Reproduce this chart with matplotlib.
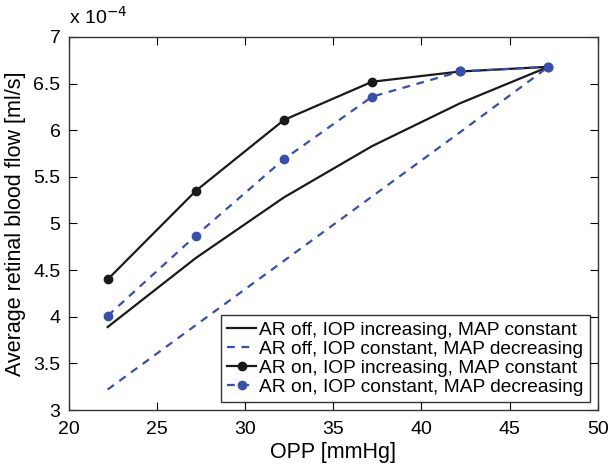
import matplotlib.pyplot as plt
from matplotlib.ticker import FuncFormatter

plt.rcParams['font.family'] = ['Liberation Sans', 'DejaVu Sans']

opp = [22.2, 27.2, 32.2, 37.2, 42.2, 47.2]
# flow in units of 1e-4 ml/s
off_iop = [3.89, 4.63, 5.28, 5.83, 6.29, 6.68]
off_map = [3.22, 3.91, 4.60, 5.29, 5.98, 6.68]
on_iop = [4.40, 5.35, 6.11, 6.52, 6.63, 6.68]
on_map = [4.01, 4.87, 5.69, 6.36, 6.63, 6.68]
scale = 1e-4

labels = ["AR off, IOP increasing, MAP constant",
          "AR off, IOP constant, MAP decreasing",
          "AR on, IOP increasing, MAP constant",
          "AR on, IOP constant, MAP decreasing"]

blue = '#3550b0'
black = '#1a1a1a'

fig = plt.figure(figsize=(6.15, 4.74), dpi=100)
ax = fig.add_axes([0.112, 0.135, 0.860, 0.787])

ax.plot(opp, [v * scale for v in off_iop], color=black, lw=1.6, label=labels[0])
ax.plot(opp, [v * scale for v in off_map], color=blue, lw=1.6, ls=(0, (3.5, 3)), label=labels[1])
ax.plot(opp, [v * scale for v in on_iop], color=black, lw=1.6, marker='o', ms=6, label=labels[2])
ax.plot(opp, [v * scale for v in on_map], color=blue, lw=1.6, ls=(0, (3.5, 3)), marker='o', ms=6, label=labels[3])

ax.set_xlim(20, 50)
ax.set_ylim(3e-4, 7e-4)
ax.set_xticks([20, 25, 30, 35, 40, 45, 50])
ax.set_yticks([v * scale for v in [3, 3.5, 4, 4.5, 5, 5.5, 6, 6.5, 7]])
ax.yaxis.set_major_formatter(FuncFormatter(lambda y, p: '%g' % round(y / scale, 2)))
ax.tick_params(direction='in', length=6, top=True, right=True, labelsize=14)
ax.tick_params(axis='x', pad=8)
ax.tick_params(axis='y', pad=6)
for s in ax.spines.values():
    s.set_linewidth(1.0)
    s.set_color('#333333')

ax.text(0.0, 1.025, r'x 10$^{-4}$', transform=ax.transAxes, fontsize=14, ha='left', va='bottom')

ax.set_xlabel("OPP [mmHg]", fontsize=15.5, labelpad=3)
ax.set_ylabel("Average retinal blood flow [ml/s]", fontsize=15.5, labelpad=5)

leg = ax.legend(loc='lower right', fontsize=13.8, frameon=True, fancybox=False,
                edgecolor='black', handlelength=1.5, handletextpad=0.15,
                borderpad=0.35, labelspacing=0.08, borderaxespad=0.4)
leg.get_frame().set_linewidth(1.0)

fig.savefig("out.png", dpi=100)
